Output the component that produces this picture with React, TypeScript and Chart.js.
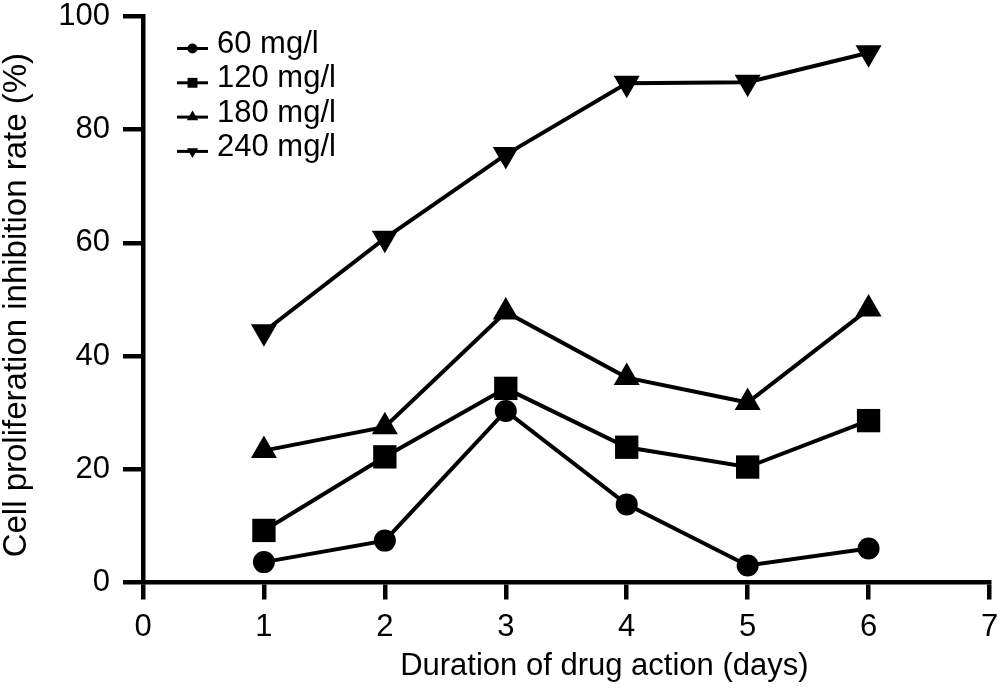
import React, { useEffect, useRef } from 'react';
import { Chart, registerables } from 'chart.js';
import { drawPoint } from 'chart.js/helpers';

Chart.register(...registerables);

const FONT = '"Liberation Sans", Arial, Helvetica, sans-serif';

const days = [1, 2, 3, 4, 5, 6];
const seriesLabels = ['60 mg/l', '120 mg/l', '180 mg/l', '240 mg/l'];
const s60 = [3.6, 7.4, 30.3, 13.8, 3.0, 6.0];
const s120 = [9.2, 22.2, 34.3, 23.9, 20.4, 28.6];
const s180 = [23.3, 27.5, 47.8, 36.2, 31.8, 48.3];
const s240 = [44.3, 60.8, 75.6, 88.2, 88.4, 93.6];
const xTitle = 'Duration of drug action (days)';
const yTitle = 'Cell proliferation inhibition rate (%)';

const pointStyles = ['circle', 'rect', 'triangle', 'triangle'];
const pointRotations = [0, 0, 0, 180];
const pointRadii = [11, 16.5, 15, 15];
const legendRadii = [5, 7, 6.5, 6.5];

const allSeries = [s60, s120, s180, s240];

const legendPlugin = {
  id: 'customLegend',
  afterDatasetsDraw(chart: any) {
    const { ctx, chartArea } = chart;
    ctx.save();
    chart.data.datasets.forEach((ds: any, i: number) => {
      const y = chartArea.top + 32 + i * 34.3;
      const x0 = chartArea.left + 34;
      const x1 = chartArea.left + 65;
      ctx.strokeStyle = '#000';
      ctx.lineWidth = 3;
      ctx.beginPath();
      ctx.moveTo(x0, y);
      ctx.lineTo(x1, y);
      ctx.stroke();
      ctx.fillStyle = '#000';
      drawPoint(
        ctx,
        { pointStyle: pointStyles[i], radius: legendRadii[i], rotation: pointRotations[i], borderWidth: 0 } as any,
        (x0 + x1) / 2,
        y
      );
      ctx.font = `31px ${FONT}`;
      ctx.textBaseline = 'middle';
      ctx.textAlign = 'left';
      ctx.fillStyle = '#000';
      ctx.fillText(ds.label, chartArea.left + 74, y - 4);
    });
    ctx.restore();
  },
};

const titlePlugin = {
  id: 'axisTitles',
  afterDraw(chart: any) {
    const { ctx, chartArea } = chart;
    ctx.save();
    ctx.fillStyle = '#000';
    ctx.textBaseline = 'middle';
    ctx.textAlign = 'center';
    ctx.font = `31px ${FONT}`;
    const xc = chartArea.left + chartArea.width * 0.545;
    ctx.fillText(xTitle, xc, chartArea.bottom + 84);
    ctx.translate(17, chartArea.top + chartArea.height * 0.51);
    ctx.rotate(-Math.PI / 2);
    ctx.font = `33px ${FONT}`;
    ctx.fillText(yTitle, 0, 0);
    ctx.restore();
  },
};

const zeroPad = (s: any) => {
  s.paddingTop = 0;
  s.paddingBottom = 0;
  s.paddingLeft = 0;
  s.paddingRight = 0;
};

export default function App() {
  const ref = useRef<HTMLCanvasElement | null>(null);
  useEffect(() => {
    if (!ref.current) return;
    const chart = new Chart(ref.current, {
      type: 'line',
      data: {
        datasets: allSeries.map((s, i) => ({
          label: seriesLabels[i],
          data: days.map((d, j) => ({ x: d, y: s[j] })),
          borderColor: '#000',
          backgroundColor: '#000',
          borderWidth: 4,
          pointStyle: pointStyles[i] as any,
          pointRotation: pointRotations[i],
          pointRadius: pointRadii[i],
          pointBackgroundColor: '#000',
          pointBorderColor: '#000',
          pointBorderWidth: 0,
          tension: 0,
          clip: false as any,
        })),
      },
      options: {
        responsive: false,
        animation: false,
        events: [],
        layout: { padding: { left: 0, top: 15, right: 11, bottom: 0 } },
        plugins: { legend: { display: false }, tooltip: { enabled: false }, title: { display: false } },
        scales: {
          x: {
            type: 'linear',
            min: 0,
            max: 7,
            ticks: {
              stepSize: 1,
              color: '#000',
              padding: 12,
              font: { family: FONT, size: 31, lineHeight: 1 },
              maxRotation: 0,
              autoSkip: false,
            },
            grid: { drawOnChartArea: false, drawTicks: true, tickLength: 17, tickWidth: 4.5, tickColor: '#000', lineWidth: 4.5, color: '#000' },
            border: { display: true, width: 4.5, color: '#000' },
            afterFit: (s: any) => {
              s.height = 113.5;
              zeroPad(s);
            },
          },
          y: {
            type: 'linear',
            min: 0,
            max: 100,
            ticks: {
              stepSize: 20,
              color: '#000',
              padding: 13,
              font: { family: FONT, size: 31, lineHeight: 1 },
            },
            grid: { drawOnChartArea: false, drawTicks: true, tickLength: 20, tickWidth: 4.5, tickColor: '#000', lineWidth: 4.5, color: '#000' },
            border: { display: true, width: 4.5, color: '#000' },
            afterFit: (s: any) => {
              s.width = 143;
              zeroPad(s);
            },
          },
        },
      },
      plugins: [legendPlugin, titlePlugin],
    });
    return () => chart.destroy();
  }, []);
  return (
    <div style={{ position: 'fixed', left: 0, top: 0, width: 1006, height: 696, background: '#fff' }}>
      <canvas ref={ref} width={1006} height={696} style={{ display: 'block' }} />
    </div>
  );
}
